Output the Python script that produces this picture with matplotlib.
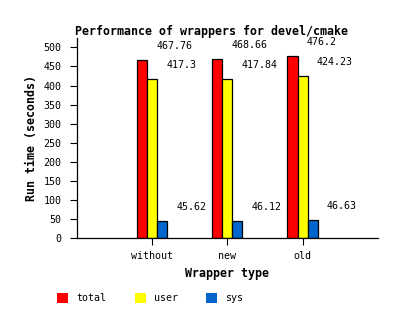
import matplotlib
matplotlib.use("Agg")
import matplotlib.pyplot as plt
import numpy as np
from matplotlib.patches import Patch

categories = ["without", "new", "old"]
series_names = ["total", "user", "sys"]
total = [467.76, 468.66, 476.2]
user = [417.3, 417.84, 424.23]
sys_ = [45.62, 46.12, 46.63]
colors = ["#FF0000", "#FFFF00", "#0066CC"]
yticks = [0, 50, 100, 150, 200, 250, 300, 350, 400, 450, 500]

plt.rcParams["font.family"] = "DejaVu Sans Mono"

W, H = 397, 322
fig = plt.figure(figsize=(W / 100, H / 100), dpi=100)
ax = fig.add_axes([77 / W, 1 - 238.3 / H, 300.7 / W, 200 / H])

x = np.arange(len(categories))
width = 0.1333
series = [total, user, sys_]
for i, (vals, name, col) in enumerate(zip(series, series_names, colors)):
    pos = x + (i - 1) * width
    ax.bar(pos, vals, width, color=col, edgecolor="black", linewidth=0.9, label=name)
    for px, v in zip(pos, vals):
        ax.annotate(f"{v:g}", xy=(px, v), xytext=(14, 14), textcoords="offset pixels",
                    ha="left", va="center", fontsize=7.2)

ax.set_xlim(-1, 3)
ax.set_ylim(0, max(total) * 1.1)
ax.set_xticks(x)
ax.set_xticklabels(categories)
ax.set_yticks(yticks)
ax.tick_params(axis="both", direction="out", length=5, width=0.8, labelsize=7.2)
ax.tick_params(axis="y", pad=6.3)
ax.tick_params(axis="x", pad=4.5)
for s in ["top", "right"]:
    ax.spines[s].set_visible(False)
for s in ["left", "bottom"]:
    ax.spines[s].set_linewidth(0.9)

ax.set_xlabel("Wrapper type", fontsize=8.4, fontweight="bold")
ax.set_ylabel("Run time (seconds)", fontsize=8.4, fontweight="bold")
ax.xaxis.set_label_coords(150.35 / 300.7, -35 / 200)
ax.yaxis.set_label_coords(-46 / 300.7, 0.5)
ax.xaxis.label.set_va("center")
ax.yaxis.label.set_va("center")

fig.text(212 / W, 1 - 32 / H, "Performance of wrappers for devel/cmake",
         ha="center", va="center", fontsize=8.4, fontweight="bold")

leg_handles = [Patch(facecolor=c, edgecolor="none", label=n) for c, n in zip(colors, series_names)]
fig.legend(handles=leg_handles, loc="center left", bbox_to_anchor=(57 / W, 1 - 298 / H),
           ncol=3, frameon=False, fontsize=7.2, handlelength=1.1, handleheight=1.1,
           handletextpad=0.85, columnspacing=2.8, borderaxespad=0, borderpad=0)

fig.savefig("out.png", dpi=100)
